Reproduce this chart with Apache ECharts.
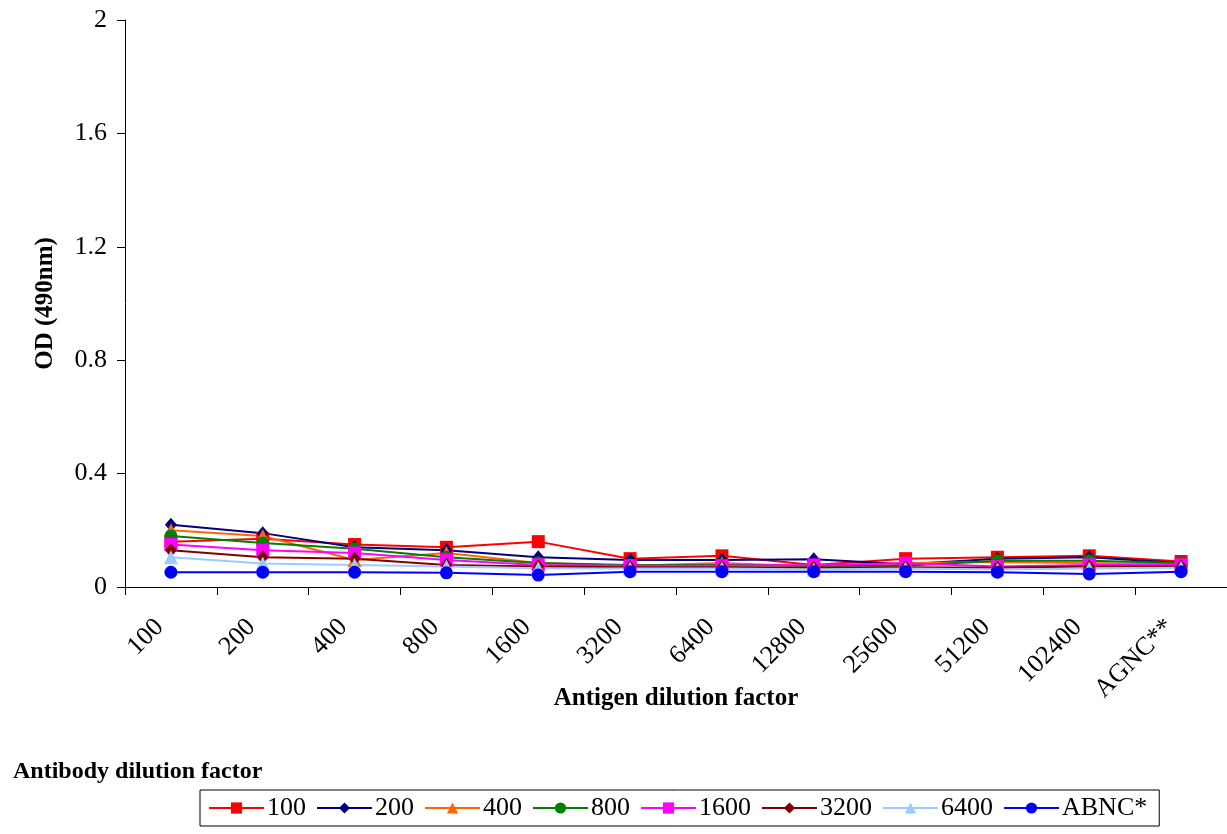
<!DOCTYPE html>
<html>
<head>
<meta charset="utf-8">
<script src="https://cdn.jsdelivr.net/npm/echarts@6/dist/echarts.min.js"></script>
<style>html,body{margin:0;padding:0;background:#fff}#c{width:1227px;height:834px}</style>
</head>
<body>
<div id="c"></div>
<script>
const categories = ['100','200','400','800','1600','3200','6400','12800','25600','51200','102400','AGNC**'];
const yTicks = [0, 0.4, 0.8, 1.2, 1.6, 2];
const s100  = [0.16, 0.17, 0.15, 0.14, 0.16, 0.10, 0.11, 0.078, 0.10, 0.105, 0.11, 0.09];
const s200  = [0.22, 0.19, 0.14, 0.13, 0.105, 0.095, 0.095, 0.098, 0.08, 0.10, 0.105, 0.085];
const s400  = [0.20, 0.18, 0.095, 0.12, 0.085, 0.075, 0.085, 0.072, 0.085, 0.088, 0.085, 0.08];
const s800  = [0.18, 0.155, 0.135, 0.105, 0.085, 0.078, 0.078, 0.075, 0.075, 0.093, 0.093, 0.085];
const s1600 = [0.15, 0.13, 0.12, 0.095, 0.078, 0.075, 0.075, 0.078, 0.084, 0.072, 0.078, 0.078];
const s3200 = [0.13, 0.105, 0.10, 0.078, 0.072, 0.07, 0.07, 0.068, 0.07, 0.068, 0.072, 0.072];
const s6400 = [0.105, 0.083, 0.078, 0.072, 0.066, 0.065, 0.065, 0.062, 0.065, 0.062, 0.065, 0.068];
const sABNC = [0.052, 0.052, 0.052, 0.05, 0.042, 0.054, 0.054, 0.054, 0.054, 0.052, 0.046, 0.054];

const seriesDefs = [
  {name:'100', data:s100, color:'#FF0000', symbol:'rect'},
  {name:'200', data:s200, color:'#000080', symbol:'diamond'},
  {name:'400', data:s400, color:'#FF6600', symbol:'triangle'},
  {name:'800', data:s800, color:'#008000', symbol:'circle'},
  {name:'1600', data:s1600, color:'#FF00FF', symbol:'rect'},
  {name:'3200', data:s3200, color:'#800000', symbol:'diamond'},
  {name:'6400', data:s6400, color:'#99CCFF', symbol:'triangle'},
  {name:'ABNC*', data:sABNC, color:'#0000FF', symbol:'circle'}
];
const FONT = 'Liberation Serif';
const chart = echarts.init(document.getElementById('c'), null, {renderer:'canvas'});
chart.setOption({
  animation:false,
  backgroundColor:'#ffffff',
  textStyle:{fontFamily:FONT, color:'#000'},
  title:{text:'Antibody dilution factor', left:8, top:755,
    textStyle:{fontFamily:FONT, fontSize:24, fontWeight:'bold', color:'#000'}},
  legend:{
    left:200, top:790, orient:'horizontal',
    data: seriesDefs.map(d=>d.name),
    itemWidth:55, itemHeight:14, itemGap:10,
    padding:[5,12,5,8],
    borderColor:'#000', borderWidth:1,
    textStyle:{fontFamily:FONT, fontSize:26, color:'#000', padding:[0,0,0,-2]}
  },
  grid:{left:125, top:20, right:-6, bottom:247, containLabel:false},
  xAxis:{
    type:'category', data:categories, boundaryGap:true,
    name:'Antigen dilution factor', nameLocation:'middle', nameGap:99, nameMoveOverlap:false,
    nameTextStyle:{fontFamily:FONT, fontSize:25, fontWeight:'bold', color:'#000'},
    axisLine:{show:true, lineStyle:{color:'#000', width:1}},
    axisTick:{show:true, alignWithLabel:false, length:8, lineStyle:{color:'#000'}},
    axisLabel:{rotate:45, fontFamily:FONT, fontSize:26, color:'#000', margin:25, interval:0, padding:[0,16,0,0]},
    splitLine:{show:false}
  },
  yAxis:{
    type:'value', min:0, max:2, interval:0.4,
    name:'OD (490nm)', nameLocation:'middle', nameGap:67, nameRotate:90,
    nameTextStyle:{fontFamily:FONT, fontSize:25, fontWeight:'bold', color:'#000'},
    axisLine:{show:true, lineStyle:{color:'#000', width:1}},
    axisTick:{show:true, length:8, lineStyle:{color:'#000'}},
    axisLabel:{fontFamily:FONT, fontSize:26, color:'#000', margin:18,
      formatter:v=>{const t=yTicks.find(x=>Math.abs(x-v)<1e-9);return t===undefined?'':String(t);}},
    splitLine:{show:false}
  },
  series: seriesDefs.map(d=>({
    name:d.name, type:'line', data:d.data,
    symbol:d.symbol, symbolSize:d.symbol==='diamond'?[12,14]:(d.symbol==='triangle'?14:13),
    showAllSymbol:true,
    lineStyle:{color:d.color, width:2},
    itemStyle:{color:d.color, borderColor:d.color, borderWidth:0},
    emphasis:{disabled:true}
  }))
});
</script>
</body>
</html>
